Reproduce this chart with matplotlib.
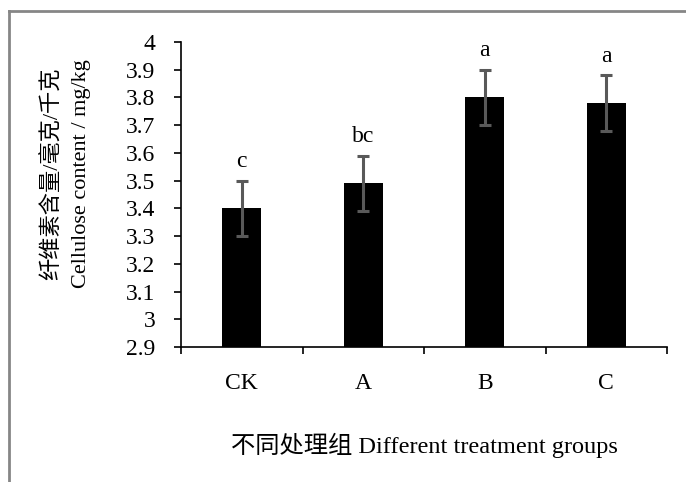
import matplotlib
matplotlib.use("Agg")
import matplotlib.pyplot as plt
from matplotlib.lines import Line2D
import numpy as np

plt.rcParams['font.family'] = ['Liberation Serif', 'Noto Sans CJK SC']

# 处理组及纤维素含量
groups = ['CK', 'A', 'B', 'C']
values = [3.40, 3.49, 3.80, 3.78]
errors = [0.10, 0.10, 0.10, 0.10]
letters = ['c', 'bc', 'a', 'a']
y_ticks = [2.9, 3, 3.1, 3.2, 3.3, 3.4, 3.5, 3.6, 3.7, 3.8, 3.9, 4]

fs = 17
fig = plt.figure(figsize=(6.86, 4.82), dpi=100)
ax = fig.add_axes([181 / 686, 1 - 347 / 482, 486 / 686, 305 / 482])

x = np.arange(len(groups))
ax.bar(x, np.array(values) - 2.9, bottom=2.9, width=0.32, color='black', zorder=2)
ax.errorbar(x, values, yerr=errors, fmt='none', ecolor='#595959',
            elinewidth=2.2, capsize=4.5, capthick=2.2, zorder=3)

# 显著性字母
for xi, v, e, s in zip(x, values, errors, letters):
    ax.text(xi, v + e + 0.03, s, ha='center', va='bottom', fontsize=fs)

ax.set_xlim(-0.5, len(groups) - 0.5)
ax.set_ylim(2.9, 4)
ax.set_yticks(y_ticks)
ax.set_yticklabels([f'{t:g}' for t in y_ticks])
ax.set_xticks(x)
ax.set_xticklabels(groups)
ax.set_xticks(np.arange(len(groups) + 1) - 0.5, minor=True)
ax.tick_params(axis='x', which='major', length=0, pad=19, labelsize=fs)
ax.tick_params(axis='x', which='minor', length=5, width=1.2, direction='out')
ax.tick_params(axis='y', length=5, width=1.2, direction='out', pad=13.5, labelsize=fs)

for side in ['top', 'right']:
    ax.spines[side].set_visible(False)
for side in ['left', 'bottom']:
    ax.spines[side].set_linewidth(1.2)

fig.text(424 / 686, 1 - 445 / 482, '不同处理组 Different treatment groups',
         fontsize=17.5, ha='center', va='center')
fig.text(66.5 / 686, 1 - 174 / 482, '纤维素含量/毫克/千克\nCellulose content / mg/kg',
         fontsize=16, ha='center', va='center', rotation=90,
         multialignment='center', linespacing=1.65)

# 外框
fig.add_artist(Line2D([8.5 / 686, 8.5 / 686], [0, 1 - 11 / 482],
                      transform=fig.transFigure, color='#868686', lw=2))
fig.add_artist(Line2D([8.5 / 686, 1], [1 - 11 / 482, 1 - 11 / 482],
                      transform=fig.transFigure, color='#868686', lw=2))

fig.savefig('out.png', dpi=100)
